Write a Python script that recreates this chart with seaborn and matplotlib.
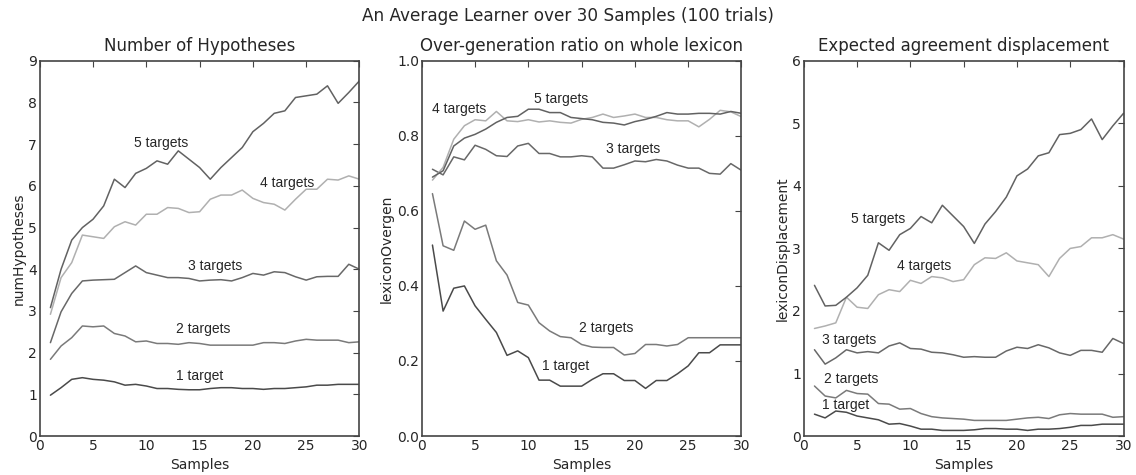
import numpy as np
import pandas as pd
import matplotlib
matplotlib.use("Agg")
import matplotlib.pyplot as plt
import seaborn as sns

# ================= data =================
samples = list(range(1, 31))
target_names = ['1 target', '2 targets', '3 targets', '4 targets', '5 targets']

# Number of Hypotheses
hyp_1 = [0.98, 1.16, 1.36, 1.40, 1.36, 1.34, 1.30, 1.22, 1.24, 1.20, 1.14, 1.14, 1.12, 1.11, 1.11,
         1.14, 1.16, 1.16, 1.14, 1.14, 1.12, 1.14, 1.14, 1.16, 1.18, 1.22, 1.22, 1.24, 1.24, 1.24]
hyp_2 = [1.84, 2.16, 2.36, 2.64, 2.62, 2.64, 2.46, 2.40, 2.26, 2.28, 2.22, 2.22, 2.20, 2.24, 2.22,
         2.18, 2.18, 2.18, 2.18, 2.18, 2.24, 2.24, 2.22, 2.28, 2.32, 2.30, 2.30, 2.30, 2.24, 2.26]
hyp_3 = [2.24, 2.98, 3.42, 3.72, 3.74, 3.75, 3.76, 3.92, 4.08, 3.92, 3.86, 3.80, 3.80, 3.78, 3.72,
         3.74, 3.75, 3.72, 3.80, 3.90, 3.86, 3.94, 3.92, 3.82, 3.74, 3.82, 3.83, 3.83, 4.12, 4.00]
hyp_4 = [2.92, 3.80, 4.16, 4.82, 4.78, 4.74, 5.02, 5.14, 5.06, 5.32, 5.32, 5.48, 5.46, 5.36, 5.38,
         5.68, 5.78, 5.78, 5.90, 5.70, 5.60, 5.56, 5.42, 5.68, 5.92, 5.92, 6.16, 6.14, 6.24, 6.16]
hyp_5 = [3.08, 4.00, 4.70, 5.00, 5.20, 5.52, 6.16, 5.96, 6.30, 6.42, 6.60, 6.52, 6.84, 6.64, 6.44,
         6.16, 6.44, 6.68, 6.92, 7.30, 7.50, 7.74, 7.80, 8.12, 8.16, 8.20, 8.40, 7.98, 8.24, 8.52]

# Over-generation ratio
ovg_1 = [0.509, 0.333, 0.394, 0.400, 0.347, 0.311, 0.276, 0.215, 0.227, 0.209, 0.149, 0.149, 0.133, 0.133, 0.133,
         0.151, 0.166, 0.166, 0.148, 0.148, 0.127, 0.148, 0.148, 0.166, 0.187, 0.222, 0.222, 0.243, 0.243, 0.243]
ovg_2 = [0.646, 0.507, 0.495, 0.573, 0.551, 0.562, 0.467, 0.429, 0.356, 0.349, 0.302, 0.280, 0.265, 0.262, 0.244,
         0.237, 0.236, 0.236, 0.216, 0.220, 0.244, 0.244, 0.240, 0.244, 0.262, 0.262, 0.262, 0.262, 0.262, 0.262]
ovg_3 = [0.711, 0.696, 0.744, 0.736, 0.775, 0.764, 0.747, 0.745, 0.773, 0.780, 0.753, 0.753, 0.744, 0.744, 0.747,
         0.744, 0.714, 0.714, 0.723, 0.733, 0.731, 0.737, 0.733, 0.722, 0.714, 0.714, 0.700, 0.698, 0.726, 0.708]
ovg_4 = [0.682, 0.716, 0.791, 0.827, 0.843, 0.840, 0.865, 0.840, 0.838, 0.843, 0.837, 0.840, 0.836, 0.834, 0.844,
         0.849, 0.858, 0.849, 0.853, 0.858, 0.849, 0.849, 0.843, 0.840, 0.840, 0.824, 0.844, 0.868, 0.864, 0.851]
ovg_5 = [0.690, 0.707, 0.773, 0.794, 0.804, 0.818, 0.836, 0.849, 0.852, 0.871, 0.871, 0.862, 0.862, 0.849, 0.846,
         0.843, 0.836, 0.834, 0.829, 0.838, 0.844, 0.852, 0.862, 0.858, 0.858, 0.860, 0.860, 0.858, 0.865, 0.860]

# Expected agreement displacement
dis_1 = [0.35, 0.29, 0.40, 0.38, 0.32, 0.29, 0.26, 0.19, 0.20, 0.16, 0.11, 0.11, 0.09, 0.09, 0.09,
         0.10, 0.12, 0.12, 0.11, 0.11, 0.09, 0.11, 0.11, 0.12, 0.14, 0.17, 0.17, 0.19, 0.19, 0.19]
dis_2 = [0.80, 0.64, 0.61, 0.73, 0.68, 0.67, 0.52, 0.51, 0.43, 0.44, 0.36, 0.31, 0.29, 0.28, 0.27,
         0.25, 0.25, 0.25, 0.25, 0.27, 0.29, 0.30, 0.28, 0.34, 0.36, 0.35, 0.35, 0.35, 0.30, 0.31]
dis_3 = [1.38, 1.15, 1.25, 1.38, 1.33, 1.35, 1.33, 1.44, 1.49, 1.40, 1.39, 1.34, 1.33, 1.30, 1.26,
         1.27, 1.26, 1.26, 1.36, 1.42, 1.40, 1.46, 1.41, 1.33, 1.29, 1.37, 1.37, 1.34, 1.56, 1.48]
dis_4 = [1.72, 1.76, 1.81, 2.22, 2.06, 2.04, 2.26, 2.34, 2.31, 2.49, 2.44, 2.55, 2.53, 2.47, 2.50,
         2.74, 2.85, 2.84, 2.93, 2.80, 2.77, 2.74, 2.55, 2.84, 3.00, 3.03, 3.17, 3.17, 3.22, 3.15]
dis_5 = [2.41, 2.08, 2.09, 2.22, 2.37, 2.57, 3.09, 2.97, 3.22, 3.32, 3.51, 3.41, 3.69, 3.52, 3.35,
         3.08, 3.39, 3.59, 3.82, 4.16, 4.27, 4.48, 4.53, 4.82, 4.84, 4.90, 5.07, 4.74, 4.96, 5.16]

# label anchor points (x, y) per panel, same order as target_names
hyp_label_pos = [(15.0, 1.44), (15.3, 2.56), (16.5, 4.08), (23.2, 6.08), (11.4, 7.04)]
ovg_label_pos = [(13.5, 0.187), (17.35, 0.289), (19.8, 0.766), (3.55, 0.871), (13.1, 0.898)]
dis_label_pos = [(3.95, 0.49), (4.4, 0.91), (4.24, 1.53), (11.3, 2.72), (7.0, 3.47)]

line_colors = ['#4a4a4a', '#7a7a7a', '#686868', '#b0b0b0', '#626262']

panels = [
    ('Number of Hypotheses', 'numHypotheses', [hyp_1, hyp_2, hyp_3, hyp_4, hyp_5], hyp_label_pos, (0, 9), np.arange(0, 10, 1), '%d'),
    ('Over-generation ratio on whole lexicon', 'lexiconOvergen', [ovg_1, ovg_2, ovg_3, ovg_4, ovg_5], ovg_label_pos, (0, 1), np.arange(0, 1.01, 0.2), '%.1f'),
    ('Expected agreement displacement', 'lexiconDisplacement', [dis_1, dis_2, dis_3, dis_4, dis_5], dis_label_pos, (0, 6), np.arange(0, 7, 1), '%d'),
]

sns.set_style('white')
plt.rcParams['font.family'] = ['DejaVu Sans']

fig, axes = plt.subplots(1, 3, figsize=(11.36, 4.75), dpi=100)
fig.subplots_adjust(left=0.035, right=0.989, bottom=0.082, top=0.872, wspace=0.195)

for ax, (title, ylab, series, label_pos, ylim, yticks, fmt) in zip(axes, panels):
    rows = []
    for name, vals in zip(target_names, series):
        for s, v in zip(samples, vals):
            rows.append({'Samples': s, 'value': v, 'targets': name})
    df = pd.DataFrame(rows)
    sns.lineplot(data=df, x='Samples', y='value', hue='targets', palette=line_colors,
                 linewidth=1.1, legend=False, ax=ax)
    for name, (lx, ly) in zip(target_names, label_pos):
        ax.text(lx, ly, name, ha='center', va='center', fontsize=10,
                family=['Liberation Sans', 'DejaVu Sans'])
    ax.set_xlim(0, 30)
    ax.set_ylim(*ylim)
    ax.set_xticks(np.arange(0, 31, 5))
    ax.set_yticks(yticks)
    ax.set_yticklabels([fmt % t for t in yticks])
    ax.set_title(title, fontsize=12, pad=7)
    ax.set_xlabel('Samples', fontsize=10, labelpad=4)
    ax.set_ylabel(ylab, fontsize=10, labelpad=2)
    ax.tick_params(direction='in', top=True, right=True, length=4, width=0.8,
                   color='#444444', labelsize=10, pad=2)
    for sp in ax.spines.values():
        sp.set_color('#444444')
        sp.set_linewidth(1.2)

fig.suptitle('An Average Learner over 30 Samples (100 trials)', fontsize=12.2, y=0.985)

plt.savefig('out.png', dpi=100)
